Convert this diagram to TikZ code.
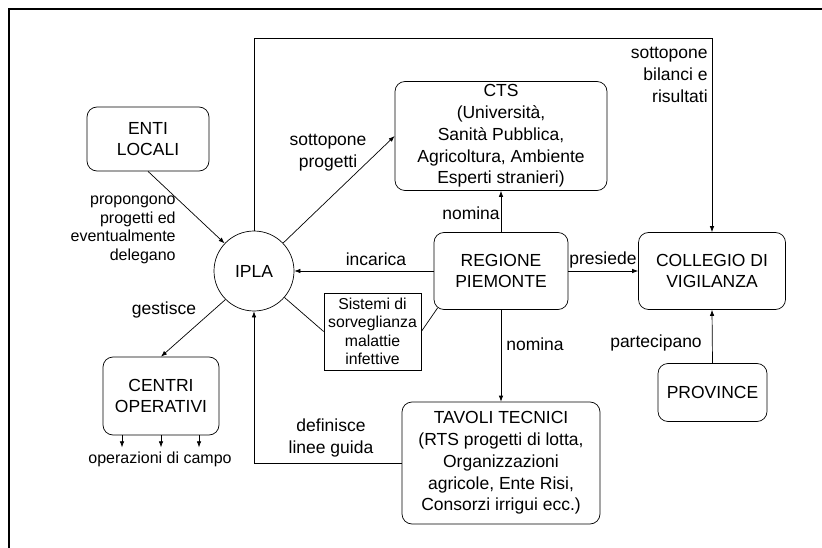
\documentclass[tikz,border=0pt]{standalone}
\usepackage{fontspec}
\setmainfont{Liberation Sans}
\usetikzlibrary{arrows.meta,calc}
\tikzset{
 box/.style={draw,rounded corners=10pt,align=center,inner sep=2pt,
  font=\fontsize{17.5}{21.8}\selectfont},
 plainbox/.style={draw,align=center,inner sep=2pt,
  font=\fontsize{15.8}{18.3}\selectfont},
 lbl/.style={align=center,inner sep=0pt,font=\fontsize{17.5}{21.8}\selectfont},
 smalllbl/.style={align=center,inner sep=0pt,font=\fontsize{16}{18.6}\selectfont},
 arr/.style={-{Latex[length=6pt,width=4.5pt]}},
}

\begin{document}
\begin{tikzpicture}[x=1pt,y=-1pt,line width=0.7pt]
    \useasboundingbox (0,0) rectangle (822,548);
    % frame
    \draw[line width=2.3pt] (9,548) -- (9,9) -- (822,9);

    % nodes
    \node[box, minimum width=122pt, minimum height=64pt] (enti) at (148,139) {ENTI\\LOCALI};
    \node[draw, circle, minimum size=80pt, font=\fontsize{17.5}{21.8}\selectfont] (ipla) at (254,271) {IPLA};
    \node[box, minimum width=212pt, minimum height=109pt] (cts) at (501,136)
        {CTS\\(Università,\\Sanità Pubblica,\\Agricoltura, Ambiente\\Esperti stranieri)};
    \node[box, minimum width=134pt, minimum height=77pt] (regione) at (501,271) {REGIONE\\PIEMONTE};
    \node[box, minimum width=147pt, minimum height=77pt] (collegio) at (712,271) {COLLEGIO DI\\VIGILANZA};
    \node[plainbox, minimum width=97pt, minimum height=77pt] (sistemi) at (372.5,331.5)
        {Sistemi di\\sorveglianza\\malattie\\infettive};
    \node[box, minimum width=116pt, minimum height=78pt] (centri) at (161,396) {CENTRI\\OPERATIVI};
    \node[box, minimum width=198pt, minimum height=122pt] (tavoli) at (501,463)
        {TAVOLI TECNICI\\(RTS progetti di lotta,\\Organizzazioni\\agricole, Ente Risi,\\Consorzi irrigui ecc.)};
    \node[box, minimum width=109pt, minimum height=58pt] (province) at (712.5,392.5) {PROVINCE};
    \coordinate (toprow) at (0,38);

    % connectors
    \draw[arr] (ipla.north) -- (ipla.north |- toprow) -| (collegio.north);
    \draw[arr] (enti.south) -- (ipla);
    \draw[arr] (ipla) -- (cts.west);
    \draw[arr] (regione.west) -- (ipla.east);
    \draw[arr] (regione.north) -- (cts.south);
    \draw[arr] (regione.east) -- (collegio.west);
    \draw[arr] (regione.south) -- (tavoli.north);
    \draw[arr] (province.north) -- (collegio.south);
    \draw[arr] (ipla.south west) -- (centri.north);
    \draw[arr] (tavoli.west) -| (ipla.south);
    \draw (ipla.-41) -- (sistemi.west);
    \draw (sistemi.east) -- ($(regione.south west)+(4,-2)$);
    \foreach \dx in {-39,0,38}
        \draw[arr] ([xshift=\dx pt]centri.south) -- ++(0,12);

    % labels
    \node[lbl, align=right, anchor=east] (lblbilanci) at (708,75) {sottopone\\bilanci e\\risultati};
    \node[smalllbl, align=right, anchor=east] (lblenti) at (176,230)
        {propongono\\progetti ed\\eventualmente\\delegano};
    \node[lbl] (lblsottopone) at (328,153) {sottopone\\progetti};
    \node[lbl] (lblincarica) at (376,259) {incarica};
    \node[lbl] (lblnominacts) at (471,213) {nomina};
    \node[lbl] (lblpresiede) at (603,260) {presiede};
    \node[lbl] (lblnominatav) at (535,344) {nomina};
    \node[lbl] (lblpartecipano) at (656,343) {partecipano};
    \node[lbl] (lblgestisce) at (164,310) {gestisce};
    \node[lbl] (lbldefinisce) at (331,438) {definisce\\linee guida};
    \node[smalllbl] (lbloperazioni) at (160,459) {operazioni di campo};
\end{tikzpicture}
\end{document}
